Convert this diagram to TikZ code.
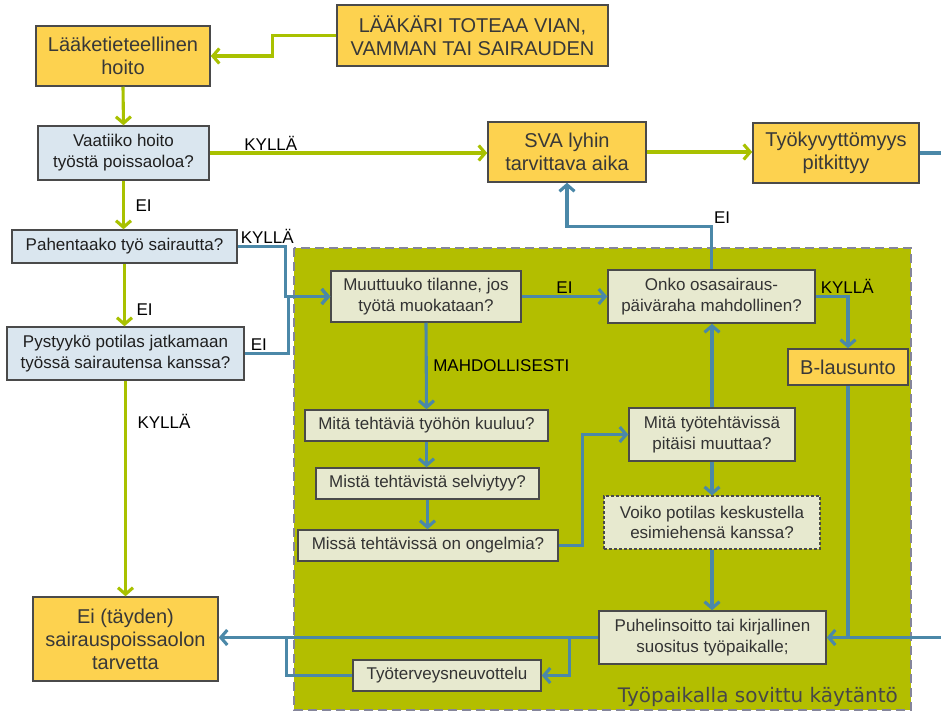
\documentclass[tikz,border=0pt]{standalone}
\usepackage{fontspec}
\setmainfont{Liberation Sans}
\newfontfamily\capfont{DejaVu Sans}
\usetikzlibrary{arrows.meta}
\definecolor{orfill}{HTML}{FDD24F}
\definecolor{qfill}{HTML}{DAE6EF}
\definecolor{wfill}{HTML}{E7E9CF}
\definecolor{areafill}{HTML}{B3BE00}
\definecolor{grnline}{HTML}{A9C100}
\definecolor{bluline}{HTML}{4B88A8}
\definecolor{dashgray}{HTML}{85859A}
\definecolor{boxedge}{HTML}{4A4A4A}

\begin{document}
\begin{tikzpicture}[x=1pt, y=-1pt,
    >={Straight Barb[length=6.5pt,width=15pt]},
    box/.style={draw=boxedge, line width=1.5pt, align=center, inner sep=0pt},
    orbox/.style={box, fill=orfill, text=black!78, font=\fontsize{20}{23}\selectfont},
    qbox/.style={box, fill=qfill, text=black!88, font=\fontsize{17}{21}\selectfont},
    wbox/.style={box, fill=wfill, text=black!80, font=\fontsize{17}{20.5}\selectfont},
    lbl/.style={text=black, font=\fontsize{17}{19}\selectfont, inner sep=1.5pt},
    grn/.style={draw=grnline, line width=3.1pt},
    blu/.style={draw=bluline, line width=3.1pt}]
    \useasboundingbox (0,0) rectangle (941,712);
    \draw[fill=areafill, draw=dashgray, line width=2.8pt, dash pattern=on 9pt off 5pt] (294,248) rectangle (911,710);
    \node[text=black!72, font=\capfont\fontsize{20}{22}\selectfont, anchor=base east, inner sep=0pt] (caption) at (898,702) {Työpaikalla sovittu käytäntö};

    \node[orbox, minimum width=271pt, minimum height=61pt] (laakari) at (472.5,35.5) {LÄÄKÄRI TOTEAA VIAN,\\VAMMAN TAI SAIRAUDEN};
    \node[orbox, minimum width=174pt, minimum height=60pt] (hoito) at (123,56) {Lääketieteellinen\\hoito};
    \node[qbox, minimum width=171pt, minimum height=54pt] (vaatii) at (123.5,153) {Vaatiiko hoito\\työstä poissaoloa?};
    \node[qbox, minimum width=225pt, minimum height=33pt] (pahent) at (124.5,246.5) {Pahentaako työ sairautta?};
    \node[qbox, minimum width=237pt, minimum height=53pt] (pystyy) at (125.5,353.5) {Pystyykö potilas jatkamaan\\työssä sairautensa kanssa?};
    \node[orbox, minimum width=185pt, minimum height=84pt] (eitayd) at (125.5,639) {Ei (täyden)\\sairauspoissaolon\\tarvetta};
    \node[orbox, minimum width=158pt, minimum height=60pt] (sva) at (567,152) {SVA lyhin\\tarvittava aika};
    \node[orbox, minimum width=166pt, minimum height=60pt] (tyokyv) at (836,153) {Työkyvyttömyys\\pitkittyy};

    \node[wbox, minimum width=190pt, minimum height=51pt] (muuttuu) at (426,296.5) {Muuttuuko tilanne, jos\\työtä muokataan?};
    \node[wbox, minimum width=207pt, minimum height=53pt] (onko) at (711.5,296.5) {Onko osasairaus-\\päiväraha mahdollinen?};
    \node[orbox, minimum width=120pt, minimum height=36pt] (blaus) at (848,367) {B-lausunto};
    \node[wbox, minimum width=243pt, minimum height=31pt] (mitateht) at (426.5,425.5) {Mitä tehtäviä työhön kuuluu?};
    \node[wbox, minimum width=223pt, minimum height=31pt] (mista) at (427.5,483.5) {Mistä tehtävistä selviytyy?};
    \node[wbox, minimum width=260pt, minimum height=31pt] (missa) at (428,545.5) {Missä tehtävissä on ongelmia?};
    \node[wbox, minimum width=166pt, minimum height=53pt] (muuttaa) at (712,434.5) {Mitä työtehtävissä\\pitäisi muuttaa?};
    \node[wbox, line width=1.1pt, dash pattern=on 3pt off 2pt, minimum width=216pt, minimum height=53pt] (voiko) at (712,522.5) {Voiko potilas keskustella\\esimiehensä kanssa?};
    \node[wbox, minimum width=227pt, minimum height=53pt] (puhelin) at (712.5,637.5) {Puhelinsoitto tai kirjallinen\\suositus työpaikalle;};
    \node[wbox, minimum width=188pt, minimum height=31pt] (neuvott) at (447,675.5) {Työterveysneuvottelu};

    \coordinate (outR) at (941,153);
    \coordinate (inR) at (941,637.5);

    \draw[grn,->] (laakari.west) -- ++(-64,0) |- (hoito.east);
    \draw[grn,->] (hoito.south) -- (vaatii.north);
    \draw[grn,->] (vaatii.east) -- node[lbl, pos=0.22, above, inner sep=1pt] {KYLLÄ} (vaatii.east -| sva.west);
    \draw[grn,->] (vaatii.south) -- node[lbl, pos=0.52, right=9pt] {EI} (vaatii.south |- pahent.north);
    \draw[grn,->] (pahent.south) -- node[lbl, pos=0.73, right=9pt] {EI} (pahent.south |- pystyy.north);
    \draw[grn,->] (pystyy.south) -- node[lbl, pos=0.19, right=9pt] {KYLLÄ} (pystyy.south |- eitayd.north);
    \draw[grn,->] (sva.east) -- (sva.east -| tyokyv.west);

    \draw[blu,->] (pahent.east) node[lbl, above right] {KYLLÄ} -- ++(48,0) |- (muuttuu.west);
    \draw[blu,->] (pystyy.east) node[lbl, above right, xshift=3pt] {EI} -- ++(44,0) |- (muuttuu.west);
    \draw[blu,->] (muuttuu.east) -- node[lbl, midway, above] {EI} (onko.west);
    \draw[blu,->] (onko.north) -- ++(0,-43) node[lbl, above right, inner sep=1pt] {EI} -| (sva.south);
    \draw[blu,->] (onko.east) node[lbl, above right, xshift=2pt] {KYLLÄ} -| (blaus.north);
    \draw[blu,->] (blaus.south) |- (puhelin.east);
    \draw[blu] (inR) -- (blaus.south |- inR);
    \draw[blu] (tyokyv.east) -- (outR);
    \draw[blu,->] (muuttuu.south) -- node[lbl, midway, right=4pt] {MAHDOLLISESTI} (mitateht.north);
    \draw[blu,->] (mitateht.south) -- (mitateht.south |- mista.north);
    \draw[blu,->] (mista.south) -- (mista.south |- missa.north);
    \draw[blu,->] (missa.east) -- ++(24,0) |- (muuttaa.west);
    \draw[blu,->] (muuttaa.north) -- (muuttaa.north |- onko.south);
    \draw[blu,->] (muuttaa.south) -- (voiko.north);
    \draw[blu,->] (voiko.south) -- (voiko.south |- puhelin.north);
    \draw[blu,->] (puhelin.west) -- (puhelin.west -| eitayd.east);
    \draw[blu,->] ([xshift=-29pt]puhelin.west) |- (neuvott.east);
    \draw[blu] (neuvott.west) -| ([xshift=68pt]eitayd.east |- puhelin.west);
\end{tikzpicture}
\end{document}
